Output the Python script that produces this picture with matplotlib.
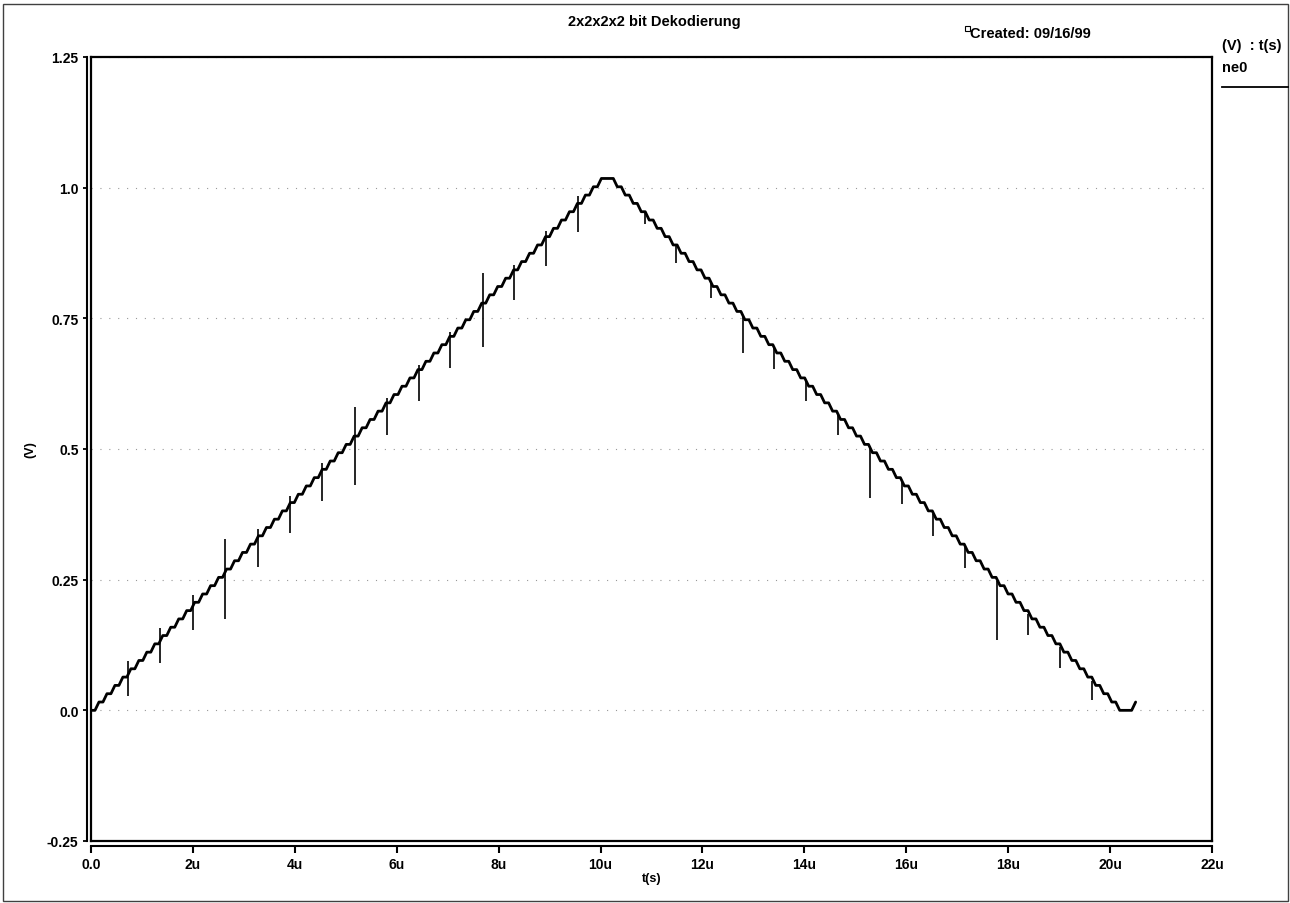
"""
Re-draw of the SPICE plot: 2x2x2x2 bit decoder output ne0 over time.
"""
import numpy as np
import matplotlib
matplotlib.use('Agg')
import matplotlib.pyplot as plt
from matplotlib.patches import Rectangle
from matplotlib.lines import Line2D

plt.rcParams['font.family'] = ['Liberation Sans', 'DejaVu Sans']
plt.rcParams['font.weight'] = 'bold'

# staircase of the decoder output: one DAC code per clock step
STEP_US = 0.1565      # step length (us)
HOLD = 0.5            # part of a step the level is flat, rest is the edge
LSB_V = 0.0159        # one code step (V)
DAC_CODES = [
    0, 1, 2, 3, 4, 5, 6, 7, 8, 9, 10, 11, 12, 13, 14, 15, 16,
    17, 18, 19, 20, 21, 22, 23, 24, 25, 26, 27, 28, 29, 30, 31, 32,
    33, 34, 35, 36, 37, 38, 39, 40, 41, 42, 43, 44, 45, 46, 47, 48,
    49, 50, 51, 52, 53, 54, 55, 56, 57, 58, 59, 60, 61, 62, 63, 64,
    64, 63, 62, 61, 60, 59, 58, 57, 56, 55, 54, 53, 52, 51, 50, 49,
    48, 47, 46, 45, 44, 43, 42, 41, 40, 39, 38, 37, 36, 35, 34, 33,
    32, 31, 30, 29, 28, 27, 26, 25, 24, 23, 22, 21, 20, 19, 18, 17,
    16, 15, 14, 13, 12, 11, 10, 9, 8, 7, 6, 5, 4, 3, 2, 1, 0,
    0, 1,
]

# switching glitches on the rising ramp (us, V)
UP_GLITCH_T = [0.73, 1.36, 2.00, 2.63, 3.27, 3.90, 4.53, 5.18,
               5.80, 6.43, 7.05, 7.69, 8.30, 8.93, 9.56]
UP_GLITCH_HI = [0.095, 0.157, 0.221, 0.327, 0.346, 0.411, 0.473, 0.580,
                0.597, 0.661, 0.723, 0.837, 0.852, 0.918, 0.985]
UP_GLITCH_LO = [0.028, 0.091, 0.154, 0.175, 0.274, 0.339, 0.401, 0.431,
                0.526, 0.591, 0.655, 0.696, 0.786, 0.850, 0.916]

# switching glitches on the falling ramp (us, V)
DN_GLITCH_T = [10.87, 11.48, 12.17, 12.79, 13.41, 14.04, 14.66, 15.29,
               15.91, 16.53, 17.15, 17.78, 18.39, 19.02, 19.64]
DN_GLITCH_HI = [0.954, 0.891, 0.821, 0.757, 0.694, 0.630, 0.566, 0.502,
                0.439, 0.375, 0.312, 0.247, 0.185, 0.121, 0.057]
DN_GLITCH_LO = [0.931, 0.855, 0.789, 0.684, 0.654, 0.591, 0.526, 0.406,
                0.395, 0.333, 0.272, 0.134, 0.145, 0.081, 0.020]

X_TICKS = [0, 2, 4, 6, 8, 10, 12, 14, 16, 18, 20, 22]
X_LABELS = ["0.0", "2u", "4u", "6u", "8u", "10u", "12u", "14u",
            "16u", "18u", "20u", "22u"]
Y_TICKS = [-0.25, 0.0, 0.25, 0.5, 0.75, 1.0, 1.25]
Y_LABELS = ["-0.25", "0.0", "0.25", "0.5", "0.75", "1.0", "1.25"]

W, H = 1290, 904
FS = 9          # tick labels
FS_HEAD = 10.5  # header / legend texts


def main():
    fig = plt.figure(figsize=(W / 100, H / 100), dpi=100)
    ax = fig.add_axes([91 / W, 1 - 842 / H, (1212 - 91) / W, (842 - 58) / H])

    # each code is held flat for HOLD of the step, then slews to the next code
    t0 = np.arange(len(DAC_CODES)) * STEP_US
    v0 = np.array(DAC_CODES) * LSB_V
    t = np.column_stack([t0, t0 + HOLD * STEP_US]).ravel()[:-1]
    v = np.column_stack([v0, v0]).ravel()[:-1]
    ax.plot(t, v, color='black', lw=2.0, zorder=3,
            solid_joinstyle='round', solid_capstyle='round')
    ax.vlines(UP_GLITCH_T, UP_GLITCH_LO, UP_GLITCH_HI, color='black', lw=1.2, zorder=3)
    ax.vlines(DN_GLITCH_T, DN_GLITCH_LO, DN_GLITCH_HI, color='black', lw=1.2, zorder=3)

    ax.set_xlim(0, 22)
    ax.set_ylim(-0.25, 1.25)
    ax.set_xticks(X_TICKS)
    ax.set_xticklabels(X_LABELS, fontsize=FS, fontweight='bold')
    ax.set_yticks(Y_TICKS)
    ax.set_yticklabels(Y_LABELS, fontsize=FS, fontweight='bold')
    ax.grid(axis='y', linestyle=(0, (1, 7)), color='0.6', lw=0.8)

    # axis lines sit just outside the plot frame
    for side in ['top', 'right']:
        ax.spines[side].set_linewidth(1.6)
    ax.spines['left'].set_position(('outward', 3))
    ax.spines['bottom'].set_position(('outward', 3.6))
    ax.spines['left'].set_linewidth(1.5)
    ax.spines['bottom'].set_linewidth(1.5)
    ax.add_line(Line2D([0, 0], [0, 1], transform=ax.transAxes, color='black',
                       lw=1.6, clip_on=False, zorder=4))
    ax.add_line(Line2D([0, 1], [0, 0], transform=ax.transAxes, color='black',
                       lw=1.6, clip_on=False, zorder=4))
    ax.tick_params(axis='y', direction='out', length=3, width=1.3, pad=3)
    ax.tick_params(axis='x', direction='out', length=5, width=1.5, pad=3)

    ax.set_xlabel("t(s)", fontsize=FS, fontweight='bold', labelpad=1)
    fig.text(30 / W, 1 - 450 / H, "(V)", rotation=90, fontsize=FS,
             fontweight='bold', ha='center', va='center')

    # header texts
    fig.text(654 / W, 1 - 22 / H, "2x2x2x2 bit Dekodierung", fontsize=FS_HEAD,
             fontweight='bold', ha='center', va='center')
    fig.text(970 / W, 1 - 34 / H, "Created: 09/16/99", fontsize=FS_HEAD,
             fontweight='bold', ha='left', va='center')
    fig.patches.append(Rectangle((965 / W, 1 - 32 / H), 5 / W, 5 / H,
                                 transform=fig.transFigure, fill=False,
                                 lw=0.8, edgecolor='black'))

    # legend block on the right
    fig.text(1222 / W, 1 - 46 / H, "(V)  : t(s)", fontsize=FS_HEAD,
             fontweight='bold', ha='left', va='center')
    fig.text(1222 / W, 1 - 68 / H, "ne0", fontsize=FS_HEAD,
             fontweight='bold', ha='left', va='center')
    fig.add_artist(Line2D([1222 / W, 1288 / W], [1 - 88 / H, 1 - 88 / H],
                          transform=fig.transFigure, color='black', lw=1.3))

    # page border
    fig.patches.append(Rectangle((3 / W, 1 - 902 / H), 1285 / W, 897 / H,
                                 transform=fig.transFigure, fill=False,
                                 lw=1.0, edgecolor='0.25'))

    fig.savefig("out.png", dpi=100)
    plt.close(fig)


if __name__ == "__main__":
    main()
